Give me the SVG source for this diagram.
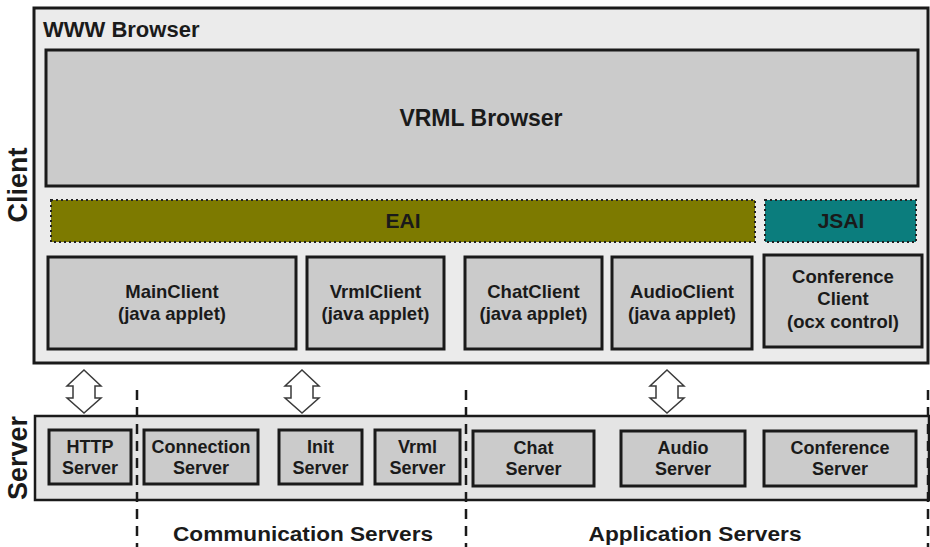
<svg xmlns="http://www.w3.org/2000/svg" width="930" height="547" viewBox="0 0 930 547">
  <style>
    .lbl { font-family: "Liberation Sans", Arial, sans-serif; font-weight: bold; fill: #1a1a1a; text-anchor: middle; }
    .box { fill: #cbcbcb; stroke: #1a1a1a; stroke-width: 3; }
    .frame { fill: #ebebeb; stroke: #1a1a1a; stroke-width: 3; }
    .bar { stroke: #222; stroke-width: 2; stroke-dasharray: 2 3; }
    .dash { stroke: #1a1a1a; stroke-width: 2.5; stroke-dasharray: 10 7; fill: none; }
    .dbl { fill: #ffffff; stroke: #3a3a3a; stroke-width: 1.5; stroke-linejoin: miter; }
  </style>
  <defs>
    <!-- hollow double-headed arrow, centred on x = 0 -->
    <path id="dblArrow" class="dbl" d="M0,370 L17,386 L11,386 L11,398 L17,398 L0,413 L-17,398 L-11,398 L-11,386 L-17,386 Z"/>
  </defs>

  <rect width="930" height="547" fill="#ffffff"/>

  <!-- side labels -->
  <text class="lbl" font-size="27" transform="translate(27,185) rotate(-90)">Client</text>
  <text class="lbl" font-size="27" transform="translate(27,458) rotate(-90)">Server</text>

  <!-- client side -->
  <g id="www-browser">
    <rect class="frame" x="34" y="8" width="894" height="355"/>
    <text class="lbl" font-size="22" x="43" y="37" style="text-anchor:start">WWW Browser</text>
  </g>
  <g id="vrml-browser">
    <rect class="box" x="46" y="50" width="872" height="136"/>
    <text class="lbl" font-size="23" x="481" y="126">VRML Browser</text>
  </g>
  <g id="eai">
    <rect class="bar" x="51" y="200" width="704" height="42" fill="#7d7a00"/>
    <text class="lbl" font-size="21" x="403" y="228">EAI</text>
  </g>
  <g id="jsai">
    <rect class="bar" x="765" y="200" width="151" height="42" fill="#0b7d7d"/>
    <text class="lbl" font-size="21" x="841" y="228">JSAI</text>
  </g>
  <g id="main-client">
    <rect class="box" x="48" y="257" width="248" height="92"/>
    <text class="lbl" font-size="18.5" x="172" y="298">MainClient</text>
    <text class="lbl" font-size="18.5" x="172" y="320">(java applet)</text>
  </g>
  <g id="vrml-client">
    <rect class="box" x="307" y="257" width="137" height="92"/>
    <text class="lbl" font-size="18.5" x="375.5" y="298">VrmlClient</text>
    <text class="lbl" font-size="18.5" x="375.5" y="320">(java applet)</text>
  </g>
  <g id="chat-client">
    <rect class="box" x="465" y="257" width="137" height="92"/>
    <text class="lbl" font-size="18.5" x="533.5" y="298">ChatClient</text>
    <text class="lbl" font-size="18.5" x="533.5" y="320">(java applet)</text>
  </g>
  <g id="audio-client">
    <rect class="box" x="612" y="257" width="140" height="92"/>
    <text class="lbl" font-size="18.5" x="682" y="298">AudioClient</text>
    <text class="lbl" font-size="18.5" x="682" y="320">(java applet)</text>
  </g>
  <g id="conference-client">
    <rect class="box" x="764" y="255" width="158" height="92"/>
    <text class="lbl" font-size="18.5" x="843" y="283">Conference</text>
    <text class="lbl" font-size="18.5" x="843" y="305">Client</text>
    <text class="lbl" font-size="18.5" x="843" y="328">(ocx control)</text>
  </g>

  <!-- server side -->
  <g id="server-tier">
    <rect x="35" y="416" width="894" height="84" fill="#e4e4e4" stroke="#1a1a1a" stroke-width="2.5"/>
  </g>
  <g id="http-server">
    <rect class="box" x="49" y="430" width="82" height="54"/>
    <text class="lbl" font-size="18" x="90" y="453">HTTP</text>
    <text class="lbl" font-size="18" x="90" y="474">Server</text>
  </g>
  <g id="connection-server">
    <rect class="box" x="144" y="430" width="114" height="54"/>
    <text class="lbl" font-size="18" x="201" y="453">Connection</text>
    <text class="lbl" font-size="18" x="201" y="474">Server</text>
  </g>
  <g id="init-server">
    <rect class="box" x="279" y="430" width="83" height="54"/>
    <text class="lbl" font-size="18" x="320.5" y="453">Init</text>
    <text class="lbl" font-size="18" x="320.5" y="474">Server</text>
  </g>
  <g id="vrml-server">
    <rect class="box" x="375" y="430" width="85" height="54"/>
    <text class="lbl" font-size="18" x="417.5" y="453">Vrml</text>
    <text class="lbl" font-size="18" x="417.5" y="474">Server</text>
  </g>
  <g id="chat-server">
    <rect class="box" x="473" y="431" width="121" height="55"/>
    <text class="lbl" font-size="18" x="533.5" y="454">Chat</text>
    <text class="lbl" font-size="18" x="533.5" y="475">Server</text>
  </g>
  <g id="audio-server">
    <rect class="box" x="621" y="431" width="124" height="55"/>
    <text class="lbl" font-size="18" x="683" y="454">Audio</text>
    <text class="lbl" font-size="18" x="683" y="475">Server</text>
  </g>
  <g id="conference-server">
    <rect class="box" x="764" y="431" width="152" height="55"/>
    <text class="lbl" font-size="18" x="840" y="454">Conference</text>
    <text class="lbl" font-size="18" x="840" y="475">Server</text>
  </g>

  <!-- group separators and group names -->
  <g id="groups">
    <line class="dash" x1="137" y1="390" x2="137" y2="547"/>
    <line class="dash" x1="466" y1="390" x2="466" y2="547"/>
    <line class="dash" x1="928" y1="390" x2="928" y2="547"/>
    <text class="lbl" font-size="21" x="303" y="541" textLength="260" lengthAdjust="spacingAndGlyphs">Communication Servers</text>
    <text class="lbl" font-size="21" x="695" y="541" textLength="213" lengthAdjust="spacingAndGlyphs">Application Servers</text>
  </g>

  <!-- client/server links -->
  <g id="connectors">
    <use href="#dblArrow" x="84"/>
    <use href="#dblArrow" x="302"/>
    <use href="#dblArrow" x="667"/>
  </g>
</svg>
